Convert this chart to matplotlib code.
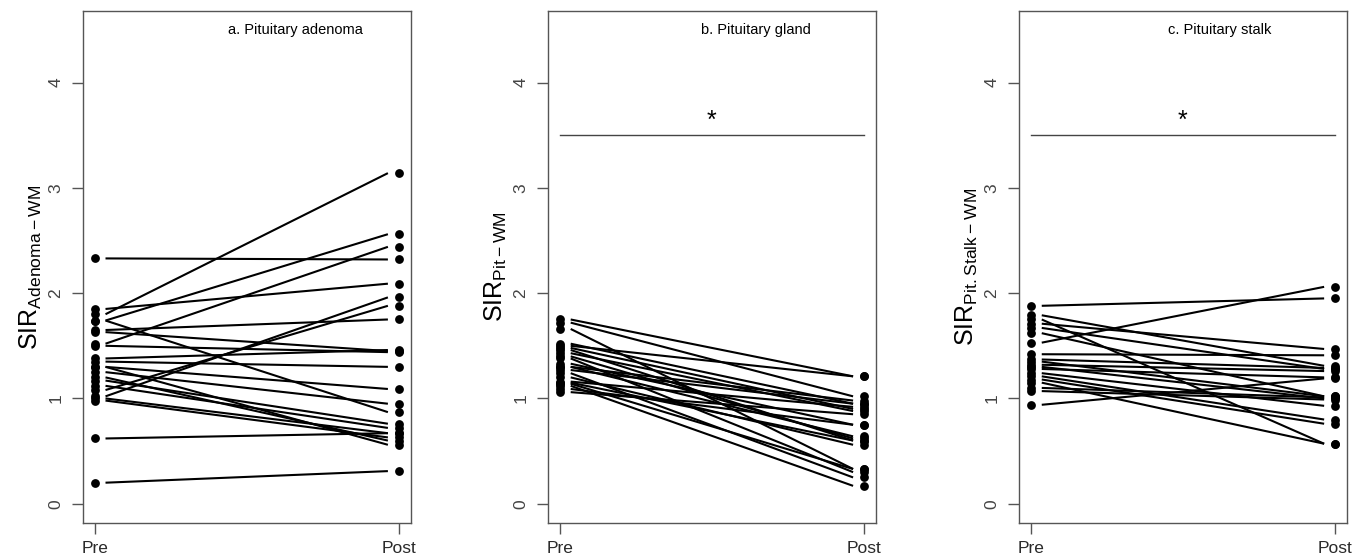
import matplotlib
matplotlib.use("Agg")
import matplotlib.pyplot as plt

plt.rcParams['font.family'] = ['Liberation Sans', 'DejaVu Sans']
plt.rcParams['mathtext.fontset'] = 'custom'
plt.rcParams['mathtext.rm'] = 'Liberation Sans'

# ---- data ----
x_labels = ["Pre", "Post"]
y_ticks = [0, 1, 2, 3, 4]

adenoma_pre = [2.33, 1.80, 1.85, 1.74, 1.74, 1.52, 1.65, 1.63, 1.50, 1.38, 1.35, 1.30,
               1.25, 1.20, 1.17, 1.12, 1.02, 1.08, 1.00, 0.98, 1.30, 0.62, 0.20]
adenoma_post = [2.32, 3.14, 2.09, 2.56, 0.87, 2.44, 1.75, 1.45, 1.44, 1.46, 1.30, 1.09,
                0.95, 0.60, 0.76, 0.72, 1.96, 1.88, 0.67, 0.63, 0.56, 0.67, 0.31]

gland_pre = [1.75, 1.72, 1.66, 1.52, 1.50, 1.48, 1.46, 1.43, 1.40, 1.38, 1.33, 1.30,
             1.27, 1.24, 1.20, 1.16, 1.14, 1.12, 1.09, 1.06, 1.15, 1.30]
gland_post = [1.21, 1.02, 0.33, 0.95, 1.21, 0.90, 0.60, 0.88, 0.62, 0.30, 0.75, 0.64,
              0.95, 0.25, 0.56, 0.92, 0.33, 0.17, 0.75, 0.85, 0.60, 0.98]

stalk_pre = [1.88, 1.53, 1.75, 1.71, 1.67, 1.62, 1.42, 1.37, 1.32, 1.24, 1.21, 1.18,
             1.15, 1.10, 1.07, 0.94, 1.30, 1.35, 1.28, 1.79]
stalk_post = [1.95, 2.06, 0.57, 1.47, 1.28, 1.02, 1.41, 1.29, 1.26, 0.93, 0.80, 0.76,
              0.57, 1.01, 0.99, 1.19, 1.00, 1.02, 1.20, 1.31]

panels = [
    (adenoma_pre, adenoma_post, "a. Pituitary adenoma", r"$\mathrm{SIR}_{\mathrm{Adenoma-WM}}$", False),
    (gland_pre, gland_post, "b. Pituitary gland", r"$\mathrm{SIR}_{\mathrm{Pit-WM}}$", True),
    (stalk_pre, stalk_post, "c. Pituitary stalk", r"$\mathrm{SIR}_{\mathrm{Pit.Stalk-WM}}$", True),
]
title_x = [1.66, 1.646, 1.62]

fig = plt.figure(figsize=(13.63, 5.6), dpi=100)
lefts = [0.0607, 0.402, 0.7476]
width = 0.2406
bottom = 0.0666
height = 0.9804 - 0.0666

box_col = "#555555"
for i, (pre, post, title, ylab, sig) in enumerate(panels):
    ax = fig.add_axes([lefts[i], bottom, width, height])
    for p, q in zip(pre, post):
        ax.plot([1.035, 1.965], [p, q], color="black", lw=1.5, solid_capstyle="butt")
    ax.scatter([1] * len(pre), pre, s=40, color="black", zorder=3, linewidths=0)
    ax.scatter([2] * len(post), post, s=40, color="black", zorder=3, linewidths=0)
    ax.set_xlim(0.96, 2.04)
    ax.set_ylim(-0.18, 4.68)
    ax.set_yticks(y_ticks)
    ax.set_yticklabels([str(t) for t in y_ticks], rotation=90, va="center")
    ax.set_xticks([1, 2])
    ax.set_xticklabels(x_labels)
    ax.tick_params(axis="both", length=8, width=1, color=box_col, labelsize=12.5, labelcolor="#2a2a2a")
    ax.tick_params(axis="y", pad=6, labelcolor="#444444")
    ax.tick_params(axis="x", pad=5)
    for sp in ax.spines.values():
        sp.set_color(box_col)
        sp.set_linewidth(1)
    ax.set_ylabel(ylab, fontsize=18, labelpad=3)
    ax.text(title_x[i], 4.5, title, ha="center", va="center", fontsize=10.5)
    if sig:
        ax.plot([1, 2], [3.5, 3.5], color="#444444", lw=1)
        ax.text(1.5, 3.64, "*", ha="center", va="center", fontsize=18)

fig.savefig("out.png", dpi=100)
